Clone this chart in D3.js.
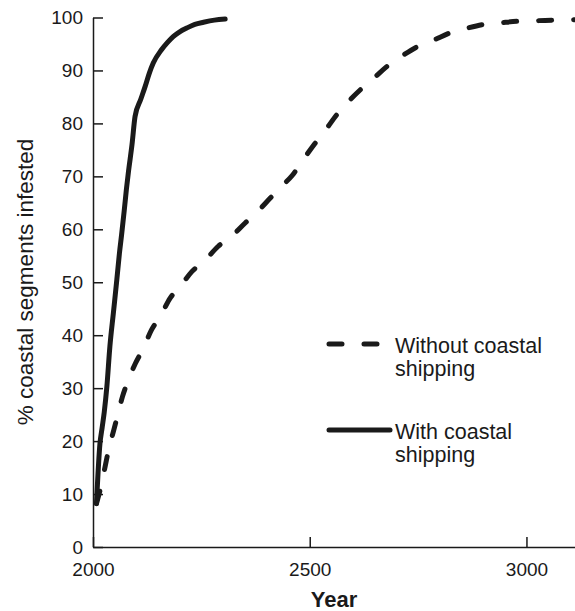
<!DOCTYPE html>
<html>
<head>
<meta charset="utf-8">
<script src="https://cdn.jsdelivr.net/npm/d3@7"></script>
<style>
  body { margin: 0; background: #fff; }
  svg text { font-family: "Liberation Sans", Arial, sans-serif; fill: #1a1a1a; }
</style>
</head>
<body>
<div id="chart"></div>
<script>
// Data
const yearsWith = [2008, 2016, 2021, 2026, 2032, 2039, 2047, 2055, 2061, 2066, 2072, 2077, 2082, 2090, 2097, 2110, 2120, 2130, 2139, 2158, 2172, 2185, 2200, 2216, 2235, 2255, 2280, 2305];
const valuesWith = [8.2, 19.5, 22.5, 25.5, 30.3, 37.9, 44.2, 50.5, 55.5, 59.0, 63.5, 67.5, 71.0, 76.0, 81.3, 84.5, 86.9, 89.5, 91.4, 93.9, 95.3, 96.4, 97.3, 98.0, 98.7, 99.1, 99.5, 99.7];

const yearsWithout = [2008, 2020, 2028, 2035, 2047, 2056, 2068, 2080, 2098, 2116, 2135, 2155, 2178, 2201, 2228, 2259, 2289, 2320, 2351, 2379, 2409, 2436, 2460, 2482, 2512, 2536, 2562, 2589, 2620, 2651, 2682, 2716, 2751, 2785, 2824, 2859, 2901, 2940, 2982, 3024, 3066, 3120];
const valuesWithout = [8.2, 12.0, 15.2, 18.0, 21.8, 24.6, 28.4, 31.2, 34.7, 37.5, 41.0, 43.5, 47.0, 49.2, 52.0, 54.2, 56.8, 58.7, 61.2, 63.3, 65.9, 68.2, 70.2, 72.8, 76.2, 78.7, 81.6, 84.1, 86.6, 88.8, 91.0, 92.9, 94.6, 95.7, 97.1, 97.9, 98.7, 99.0, 99.3, 99.4, 99.5, 99.6];

const yTicks = [0, 10, 20, 30, 40, 50, 60, 70, 80, 90, 100];
const xTicks = [2000, 2500, 3000];

const legendLabels = [["Without coastal", "shipping"], ["With coastal", "shipping"]];

const W = 575, H = 611;
const margin = {top: 17.5, right: 0, bottom: 64, left: 93};

const svg = d3.select("#chart").append("svg")
    .attr("width", W)
    .attr("height", H);

const x = d3.scaleLinear()
    .domain([2000, 3112])
    .range([margin.left, W - margin.right]);

const y = d3.scaleLinear()
    .domain([0, 100])
    .range([H - margin.bottom, margin.top]);

// Y axis, ticks pointing inward
const yAxis = svg.append("g")
    .attr("transform", `translate(${margin.left},0)`)
    .call(d3.axisRight(y).tickValues(yTicks).tickSize(10).tickSizeOuter(0).tickFormat(d3.format("d")));
yAxis.select(".domain").attr("stroke", "#1a1a1a").attr("stroke-width", 1.5);
yAxis.selectAll(".tick line").attr("stroke", "#1a1a1a").attr("stroke-width", 1.5);
yAxis.selectAll(".tick text")
    .attr("x", -10)
    .attr("text-anchor", "end")
    .attr("font-size", 19);

// X axis, ticks pointing up
const xAxis = svg.append("g")
    .attr("transform", `translate(0,${y(0)})`)
    .call(d3.axisTop(x).tickValues(xTicks).tickSize(10).tickSizeOuter(0).tickFormat(d3.format("d")));
xAxis.select(".domain").attr("stroke", "#1a1a1a").attr("stroke-width", 1.5);
xAxis.selectAll(".tick text")
    .attr("y", 29)
    .attr("font-size", 19);
xAxis.selectAll(".tick line").attr("stroke", "#1a1a1a").attr("stroke-width", 1.5);

// Axis titles
svg.append("text")
    .attr("x", 334)
    .attr("y", 607)
    .attr("text-anchor", "middle")
    .attr("font-size", 22)
    .attr("font-weight", "bold")
    .text("Year");

svg.append("text")
    .attr("transform", "translate(33,282) rotate(-90)")
    .attr("text-anchor", "middle")
    .attr("font-size", 22.5)
    .text("% coastal segments infested");

// Curves
const line = d3.line()
    .x(d => x(d[0]))
    .y(d => y(d[1]))
    .curve(d3.curveMonotoneX);

const plot = svg.append("g");
plot.append("clipPath").attr("id", "clip")
    .append("rect").attr("x", margin.left).attr("y", 0).attr("width", W - margin.left).attr("height", H);

plot.append("path")
    .datum(yearsWithout.map((d, i) => [d, valuesWithout[i]]))
    .attr("clip-path", "url(#clip)")
    .attr("fill", "none")
    .attr("stroke", "#1a1a1a")
    .attr("stroke-width", 5)
    .attr("stroke-linecap", "round")
    .attr("stroke-dasharray", "13,22")
    .attr("d", line);

plot.append("path")
    .datum(yearsWith.map((d, i) => [d, valuesWith[i]]))
    .attr("fill", "none")
    .attr("stroke", "#1a1a1a")
    .attr("stroke-width", 5)
    .attr("stroke-linecap", "round")
    .attr("stroke-linejoin", "round")
    .attr("d", line);

// Legend
const legend = svg.append("g");
const legendY = [344, 430];
legend.append("line")
    .attr("x1", 329).attr("x2", 382)
    .attr("y1", legendY[0]).attr("y2", legendY[0])
    .attr("stroke", "#1a1a1a").attr("stroke-width", 5)
    .attr("stroke-linecap", "round")
    .attr("stroke-dasharray", "13,22");
legend.append("line")
    .attr("x1", 329).attr("x2", 390)
    .attr("y1", legendY[1]).attr("y2", legendY[1])
    .attr("stroke", "#1a1a1a").attr("stroke-width", 5)
    .attr("stroke-linecap", "round");

legendLabels.forEach((lines, i) => {
    const t = legend.append("text")
        .attr("x", 395)
        .attr("y", legendY[i] + 9)
        .attr("font-size", 21.5);
    lines.forEach((s, j) => {
        t.append("tspan")
            .attr("x", 395)
            .attr("dy", j === 0 ? 0 : 23)
            .text(s);
    });
});
</script>
</body>
</html>
